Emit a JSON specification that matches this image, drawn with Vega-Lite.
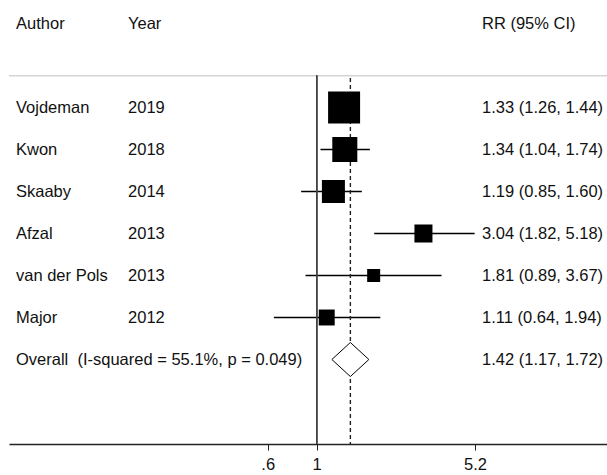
{
  "$schema": "https://vega.github.io/schema/vega-lite/v6.json",
  "autosize": "none",
  "width": 598,
  "height": 444,
  "padding": {"left": 9, "top": 0, "right": 0, "bottom": 31},
  "background": "white",
  "config": {
    "view": {"stroke": null},
    "font": "Liberation Sans",
    "text": {"font": "Liberation Sans", "fontSize": 16.5, "color": "#111", "align": "left", "baseline": "middle"}
  },
  "data": {
    "values": [
      {"key": "header", "author": "Author", "year": "Year", "rr": "RR (95% CI)"},
      {"key": "Vojdeman", "author": "Vojdeman", "year": "2019", "est": 1.33, "lci": 1.26, "uci": 1.44, "weight": 35.0, "rr": "1.33 (1.26, 1.44)"},
      {"key": "Kwon", "author": "Kwon", "year": "2018", "est": 1.34, "lci": 1.04, "uci": 1.74, "weight": 21.4, "rr": "1.34 (1.04, 1.74)"},
      {"key": "Skaaby", "author": "Skaaby", "year": "2014", "est": 1.19, "lci": 0.85, "uci": 1.60, "weight": 18.1, "rr": "1.19 (0.85, 1.60)"},
      {"key": "Afzal", "author": "Afzal", "year": "2013", "est": 3.04, "lci": 1.82, "uci": 5.18, "weight": 11.1, "rr": "3.04 (1.82, 5.18)"},
      {"key": "van der Pols", "author": "van der Pols", "year": "2013", "est": 1.81, "lci": 0.89, "uci": 3.67, "weight": 5.8, "rr": "1.81 (0.89, 3.67)"},
      {"key": "Major", "author": "Major", "year": "2012", "est": 1.11, "lci": 0.64, "uci": 1.94, "weight": 8.7, "rr": "1.11 (0.64, 1.94)"},
      {"key": "Overall", "author": "Overall\u00a0 (I-squared = 55.1%, p = 0.049)", "year": "", "est": 1.42, "lci": 1.17, "uci": 1.72, "rr": "1.42 (1.17, 1.72)"}
    ]
  },
  "encoding": {
    "y": {
      "field": "key",
      "type": "nominal",
      "axis": null,
      "scale": {
        "type": "band",
        "domain": ["header", "gap1", "Vojdeman", "Kwon", "Skaaby", "Afzal", "van der Pols", "Major", "Overall", "gap2"],
        "range": [2.5, 422.5],
        "paddingInner": 0,
        "paddingOuter": 0
      }
    }
  },
  "layer": [
    {
      "transform": [{"filter": "datum.key != 'Overall' && datum.key != 'header'"}],
      "mark": {"type": "rule", "color": "#000", "strokeWidth": 1.5},
      "encoding": {
        "x": {
          "field": "lci",
          "type": "quantitative",
          "scale": {"type": "log", "domain": [0.04055, 20.57], "nice": false, "zero": false},
          "axis": {
            "values": [0.6, 1, 5.2],
            "labelExpr": "datum.value == 0.6 ? '.6' : toString(datum.value)",
            "title": null,
            "grid": false,
            "domain": true,
            "domainColor": "#222",
            "domainWidth": 1.5,
            "ticks": true,
            "tickColor": "#222",
            "tickWidth": 1,
            "tickSize": 6,
            "labelPadding": 6,
            "labelFont": "Liberation Sans",
            "labelFontSize": 16.5,
            "labelColor": "#111",
            "labelFlush": false,
            "labelOverlap": false
          }
        },
        "x2": {"field": "uci"}
      }
    },
    {
      "mark": {"type": "rule", "color": "#d4d4d4", "strokeWidth": 1},
      "encoding": {
        "y": {"datum": "gap1", "bandPosition": 0.74}
      }
    },
    {
      "mark": {"type": "rule", "color": "#444", "strokeWidth": 1},
      "encoding": {
        "x": {"datum": 1, "type": "quantitative"},
        "y": {"datum": "gap1", "bandPosition": 0.74},
        "y2": {"value": "height"}
      }
    },
    {
      "transform": [{"filter": "datum.key == 'Overall'"}],
      "mark": {"type": "rule", "color": "#222", "strokeWidth": 1.4, "strokeDash": [4, 3]},
      "encoding": {
        "x": {"field": "est", "type": "quantitative"},
        "y": {"datum": "gap1", "bandPosition": 0.8},
        "y2": {"value": "height"}
      }
    },
    {
      "transform": [{"filter": "datum.key != 'Overall' && datum.key != 'header'"}],
      "mark": {"type": "point", "shape": "square", "filled": true, "color": "#000", "opacity": 1, "strokeWidth": 0},
      "encoding": {
        "x": {"field": "est", "type": "quantitative"},
        "size": {"field": "weight", "type": "quantitative", "legend": null, "scale": {"type": "linear", "domain": [0, 35], "range": [0, 1024], "zero": true}}
      }
    },
    {
      "transform": [{"filter": "datum.key == 'Overall'"}],
      "mark": {"type": "point", "shape": "M-1,0L0,-0.92L1,0L0,0.92Z", "filled": true, "fill": "white", "stroke": "#000", "strokeWidth": 1, "opacity": 1, "size": 1369},
      "encoding": {
        "x": {"field": "est", "type": "quantitative"}
      }
    },
    {
      "mark": {"type": "text"},
      "encoding": {
        "x": {"datum": 0.04362, "type": "quantitative"},
        "text": {"field": "author"}
      }
    },
    {
      "mark": {"type": "text"},
      "encoding": {
        "x": {"datum": 0.1401, "type": "quantitative"},
        "text": {"field": "year"}
      }
    },
    {
      "mark": {"type": "text"},
      "encoding": {
        "x": {"datum": 5.595, "type": "quantitative"},
        "text": {"field": "rr"}
      }
    }
  ],
  "resolve": {"scale": {"x": "shared"}}
}
